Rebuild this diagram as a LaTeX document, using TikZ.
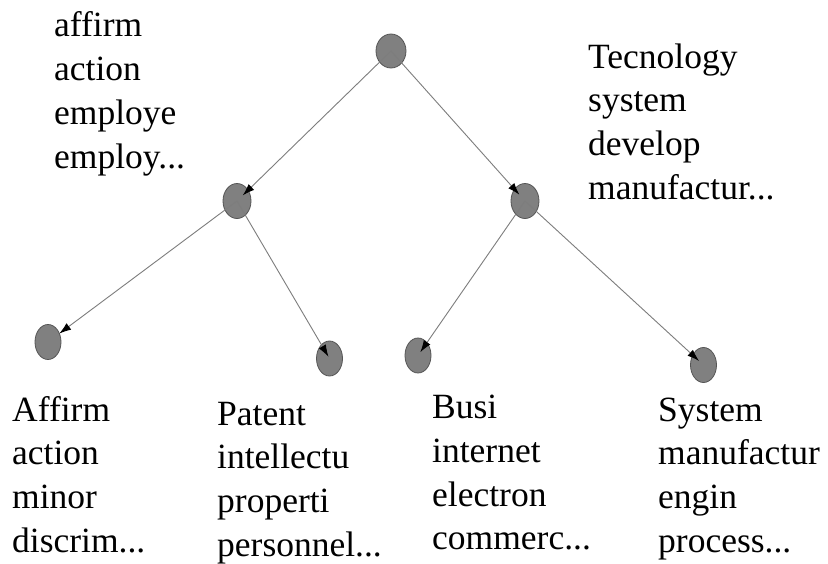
\documentclass[tikz,border=0pt]{standalone}
\usepackage{fontspec}
\setmainfont{Liberation Serif}
\usetikzlibrary{arrows.meta,shapes.geometric}
\definecolor{nodefill}{RGB}{128,128,128}
\definecolor{nodeline}{RGB}{85,85,85}
\definecolor{edgecol}{RGB}{125,125,125}
\begin{document}
\begin{tikzpicture}[x=1pt,y=-1pt,
  topic/.style={ellipse,fill=nodefill,draw=nodeline,line width=0.8pt,minimum width=28pt,minimum height=35pt,inner sep=0pt},
  leaf/.style={topic,minimum width=26pt,minimum height=35pt},
  words/.style={anchor=base west,inner sep=0pt,text width=220pt,align=left,font=\fontsize{35.5}{43.8}\selectfont},
  edge/.style={draw=edgecol,line width=0.9pt,-{Latex[length=12pt,width=8pt,color=black]}}]
\useasboundingbox[fill=white] (0,0) rectangle (828,563);
% nodes
\node[topic,minimum width=30pt,minimum height=34pt] (root) at (391,51) {};
\node[topic] (ml) at (237,201) {};
\node[topic] (mr) at (525,201) {};
\node[leaf] (b1) at (48,342) {};
\node[leaf] (b2) at (329.5,358.5) {};
\node[leaf] (b3) at (418,355.5) {};
\node[leaf] (b4) at (703.5,365) {};
% connectors
\draw[edge,shorten >=8pt] (root.center) -- (ml.center);
\draw[edge,shorten >=8.5pt] (root.center) -- (mr.center);
\draw[edge,shorten >=14pt] (ml.center) -- (b1.center);
\draw[edge,shorten >=2pt] (ml.center) -- (b2.center);
\draw[edge,shorten >=4pt] (mr.center) -- (b3.center);
\draw[edge,shorten >=6pt] (mr.center) -- (b4.center);
% labels
\node[words] (tl) at (54,36.7) {affirm\\action\\employe\\employ...};
\node[words] (tr) at (588,68) {Tecnology\\system\\develop\\manufactur...};
\node[words] (l1) at (12,421) {Affirm\\action\\minor\\discrim...};
\node[words] (l2) at (217,425) {Patent\\intellectu\\properti\\personnel...};
\node[words] (l3) at (432,418.5) {Busi\\internet\\electron\\commerc...};
\node[words] (l4) at (658,421) {System\\manufactur\\engin\\process...};
\end{tikzpicture}
\end{document}
